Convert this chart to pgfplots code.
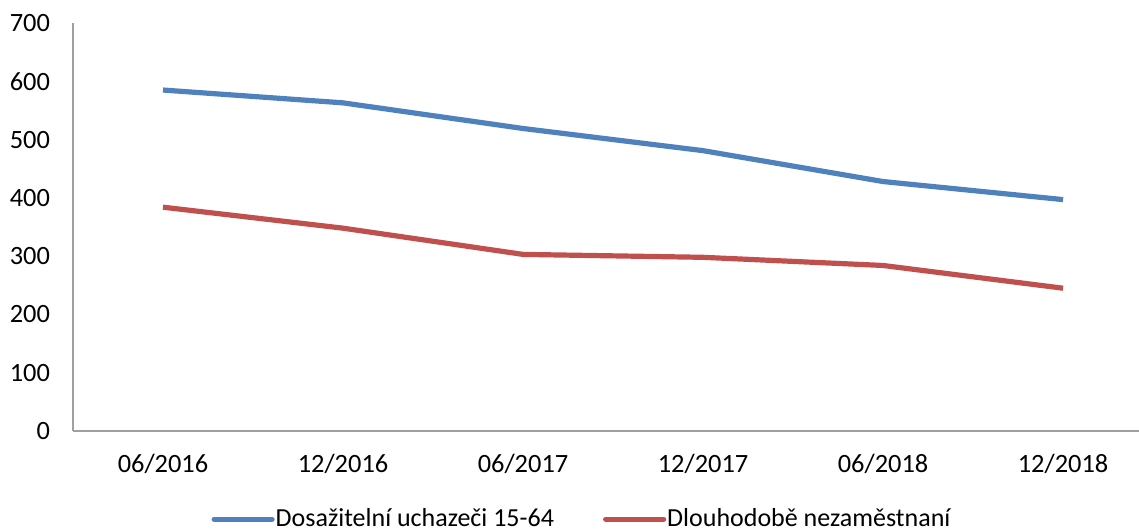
\documentclass[border=0pt]{standalone}
\usepackage{fontspec}
\setmainfont{Carlito}
\usepackage{pgfplots}
\pgfplotsset{compat=1.18}
\definecolor{serblue}{HTML}{4F81BD}
\definecolor{serred}{HTML}{C0504D}
\definecolor{axgray}{HTML}{A0A0A0}
\begin{document}
\fontsize{13pt}{15pt}\selectfont
\begin{tikzpicture}
\begin{axis}[
  scale only axis,
  width=533pt, height=204pt,
  xmin=-0.5, xmax=5.422,
  ymin=0, ymax=700,
  ytick={0,100,...,700},
  xtick={0,...,5},
  xticklabels={06/2016,12/2016,06/2017,12/2017,06/2018,12/2018},
  axis x line*=bottom, axis y line*=left,
  axis line style={axgray, line width=0.9pt, -},
  major tick length=0pt,
  /pgf/number format/assume math mode=true,
  tick label style={font=\fontsize{13.2pt}{15pt}\selectfont},
  yticklabel style={xshift=-7pt},
  xticklabel style={yshift=-7pt},
  legend columns=2,
  legend style={at={(0.477,-0.216)}, anchor=center, draw=none, fill=none,
    font=\fontsize{13pt}{15pt}\selectfont,
    nodes={inner xsep=0.5pt},
    /tikz/every even column/.append style={column sep=24pt}},
  legend image code/.code={\draw[#1, line cap=round] (0pt,0pt) -- (29pt,0pt);},
  clip=false,
]
\addplot[serblue, line width=2.6pt, line join=round] coordinates {
  (0,585) (1,563) (2,519) (3,481) (4,428) (5,397)
};
\addlegendentry{Dosažitelní uchazeči 15-64}
\addplot[serred, line width=2.6pt, line join=round] coordinates {
  (0,384) (1,348) (2,303) (3,298) (4,284) (5,245)
};
\addlegendentry{Dlouhodobě nezaměstnaní}
\end{axis}
\pgfresetboundingbox
\path (-36.5pt,-50pt) rectangle (533pt,215.5pt);
\end{tikzpicture}
\end{document}
